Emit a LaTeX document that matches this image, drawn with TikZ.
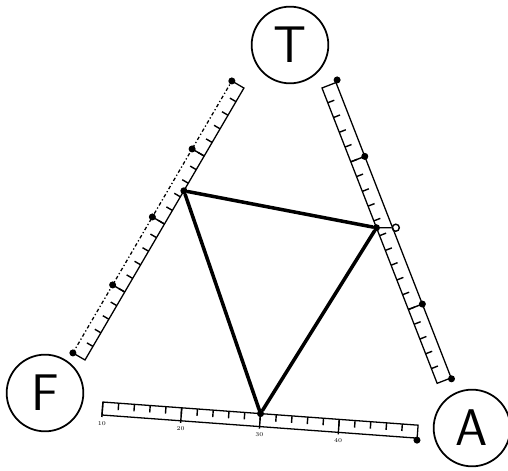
\documentclass[tikz,border=0pt]{standalone}
\usetikzlibrary{positioning}
\begin{document}
\begin{tikzpicture}[
  x=0.03cm, y=0.03cm,
  corner/.style={circle, draw, line width=1.5pt, minimum size=2.3cm, inner sep=0pt, font=\fontsize{44}{44}\selectfont\sffamily},
  ruler/.style={line width=1.1pt},
  tick/.style={line width=1.2pt},
  side/.style={line width=3pt, line cap=round},
  dot/.style={circle, fill=black, inner sep=0pt, minimum size=6pt},
  ring/.style={circle, draw, line width=1.2pt, inner sep=0pt, minimum size=6pt},
  numstyle/.style={font=\tiny, below=0pt}
]
\useasboundingbox (0,0) rectangle (508,470);

% --- Vertices ---
\node[corner] (T) at (290,425) {T};
\node[corner] (F) at (45,77) {F};
\node[corner] (A) at (472,42) {A};

% --- Regla F-A ---
\begin{scope}[shift={(102,55)}, rotate=-4.2]
  \draw[ruler] (0,0) rectangle (316,13);
  \foreach \k in {1,...,19} \draw[tick] (\k*15.8,13) -- ++(0,-7);
  \foreach \k/\v in {0/10,5/20,10/30,15/40} {
    \draw[tick] (\k*15.8,13) -- (\k*15.8,-2);
    \node[numstyle] at (\k*15.8,-2) {\v};
  }
  \node[dot] (pfa) at (316,-2) {};
  \node[dot] (v3) at (158,13) {};
\end{scope}

% --- Regla F-T ---
\begin{scope}[shift={(85,110)}, rotate=59.7]
  \draw[ruler] (0,14) -- (0,0) -- (315,0) -- (315,14);
  \draw[ruler, dash dot] (0,14) -- (315,14);
  \foreach \k in {1,...,19} \draw[tick] (\k*15.75,0) -- ++(0,7);
  \foreach \k in {5,10,15} {
    \draw[tick] (\k*15.75,0) -- (\k*15.75,17);
    \node[dot] at (\k*15.75,14) {};
  }
  \node[dot] (pft1) at (0,14) {};
  \node[dot] (pft2) at (315,14) {};
  \node[dot] (v1) at (196,0) {};
\end{scope}

% --- Regla T-A ---
\begin{scope}[shift={(322,382)}, rotate=-68.7]
  \draw[ruler] (0,0) rectangle (317,15);
  \foreach \k in {1,...,19} \draw[tick] (\k*15.85,0) -- ++(0,7);
  \foreach \k in {5,15} {
    \draw[tick] (\k*15.85,0) -- (\k*15.85,18);
    \node[dot] at (\k*15.85,15) {};
  }
  \node[ring] (o) at (157,18) {};
  \node[dot] (pta1) at (-2,17) {};
  \node[dot] (pta2) at (318,15) {};
  \node[dot] (v2) at (150,0) {};
  \draw[tick] (v2) -- (o);
\end{scope}

% Triangulo
\draw[side] (v1) -- (v2);
\draw[side] (v2) -- (v3);
\draw[side] (v3) -- (v1);
\end{tikzpicture}
\end{document}
